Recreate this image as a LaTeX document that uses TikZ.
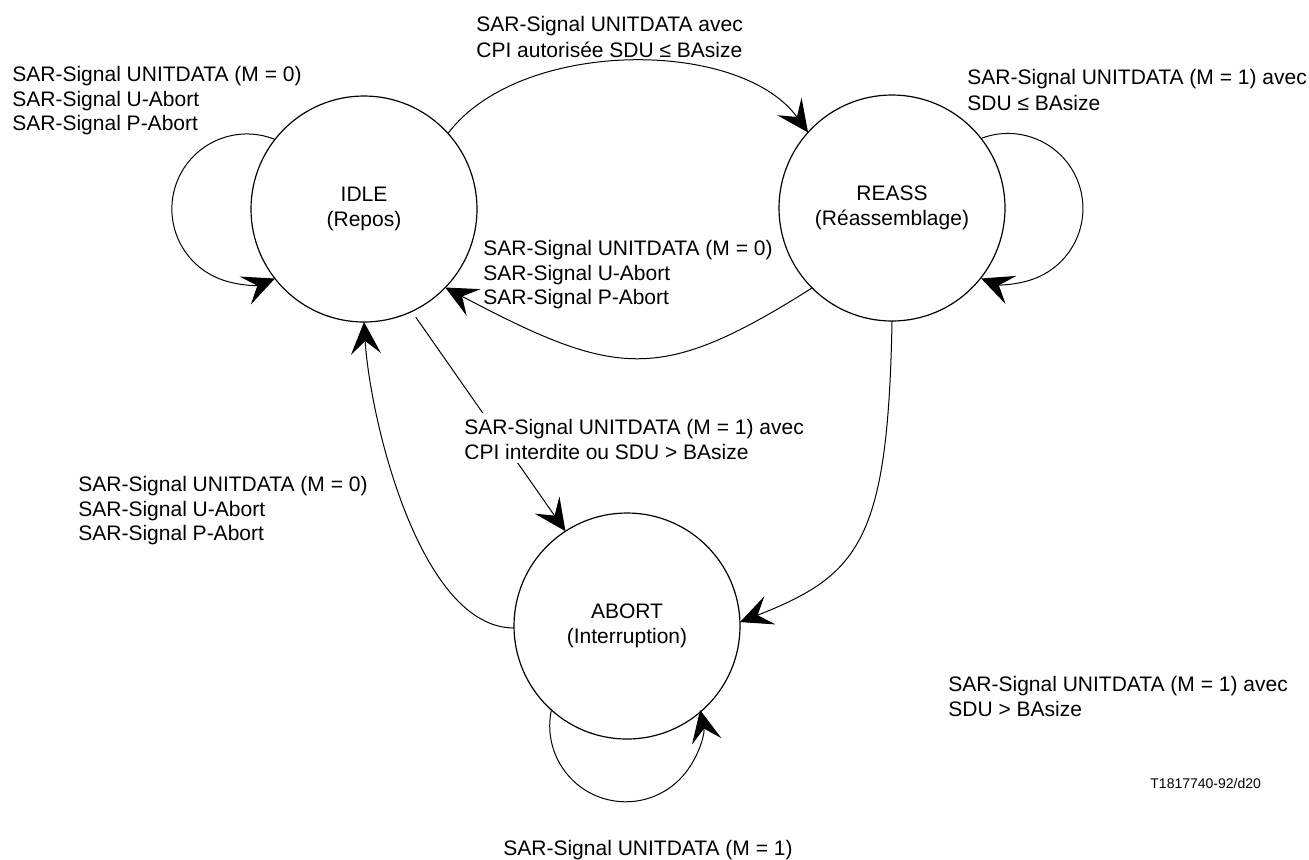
\documentclass[tikz,border=0pt]{standalone}
\usepackage{fontspec}
\setmainfont{Liberation Sans}
\usetikzlibrary{arrows.meta}

\tikzset{
  state/.style={circle, draw, line width=0.6pt, minimum size=113pt,
    inner sep=0pt, outer sep=0pt, align=center,
    font=\fontsize{10.5pt}{12.6pt}\selectfont},
  tr/.style={line width=0.5pt,
    -{Stealth[length=16pt, width=15pt, inset=6.5pt]}},
  lbl/.style={anchor=north west, inner sep=0pt, align=left,
    font=\fontsize{10.5pt}{12.3pt}\selectfont},
  widelbl/.style={lbl, font=\fontsize{10.5pt}{13.3pt}\selectfont},
  ref/.style={anchor=base west, inner sep=0pt,
    font=\fontsize{7pt}{8pt}\selectfont}
}

\begin{document}
\begin{tikzpicture}[x=0.5pt, y=0.5pt]
  \useasboundingbox (0,0) rectangle (1309,-859);

  % states
  \node[state] (idle)  at (364,-209) {IDLE\\(Repos)};
  \node[state] (reass) at (892,-208) {REASS\\(Réassemblage)};
  \node[state] (abort) at (627,-626) {ABORT\\(Interruption)};

  % self loops
  \draw[tr] (idle.142)   arc[start angle=68,  end angle=292,  radius=37.5pt];
  \draw[tr] (reass.38)   arc[start angle=111, end angle=-111, radius=37.5pt];
  \draw[tr] (abort.228.6) arc[start angle=168, end angle=372, radius=38pt];

  % transitions between states
  \draw[tr] (idle.42) .. controls (520,-38) and (740,-38) .. (reass.138);
  \draw[tr] (reass.225) .. controls (660,-384) and (617,-378) .. (idle.-44);
  \draw[tr, shorten <=3.5pt] (idle.-65) -- (abort.123);
  \draw[tr] (abort.181) .. controls (420,-628) and (370,-420) .. (idle.south);
  \draw[tr] (reass.south) .. controls (888,-540) and (860,-575) .. (abort.2);

  % transition labels
  \node[lbl] (l1) at (12,-64)
    {\strut SAR-Signal UNITDATA (M = 0)\\SAR-Signal U-Abort\\SAR-Signal P-Abort};
  \node[widelbl] (l2) at (476,-12)
    {\strut SAR-Signal UNITDATA avec\\CPI autorisée SDU ≤ BAsize};
  \node[widelbl] (l3) at (967,-65)
    {\strut SAR-Signal UNITDATA (M = 1) avec\\SDU ≤ BAsize};
  \node[lbl] (l4) at (483,-238)
    {\strut SAR-Signal UNITDATA (M = 0)\\SAR-Signal U-Abort\\SAR-Signal P-Abort};
  \node[lbl, fill=white, inner sep=2pt] (l5) at (460,-413)
    {\strut SAR-Signal UNITDATA (M = 1) avec\\CPI interdite ou SDU > BAsize};
  \node[lbl] (l6) at (78,-474)
    {\strut SAR-Signal UNITDATA (M = 0)\\SAR-Signal U-Abort\\SAR-Signal P-Abort};
  \node[lbl] (l7) at (948,-674)
    {\strut SAR-Signal UNITDATA (M = 1) avec\\SDU > BAsize};
  \node[lbl] (l8) at (503,-838)
    {\strut SAR-Signal UNITDATA (M = 1)};

  % figure reference
  \node[ref] (fig) at (1150,-788) {T1817740-92/d20};
\end{tikzpicture}
\end{document}
